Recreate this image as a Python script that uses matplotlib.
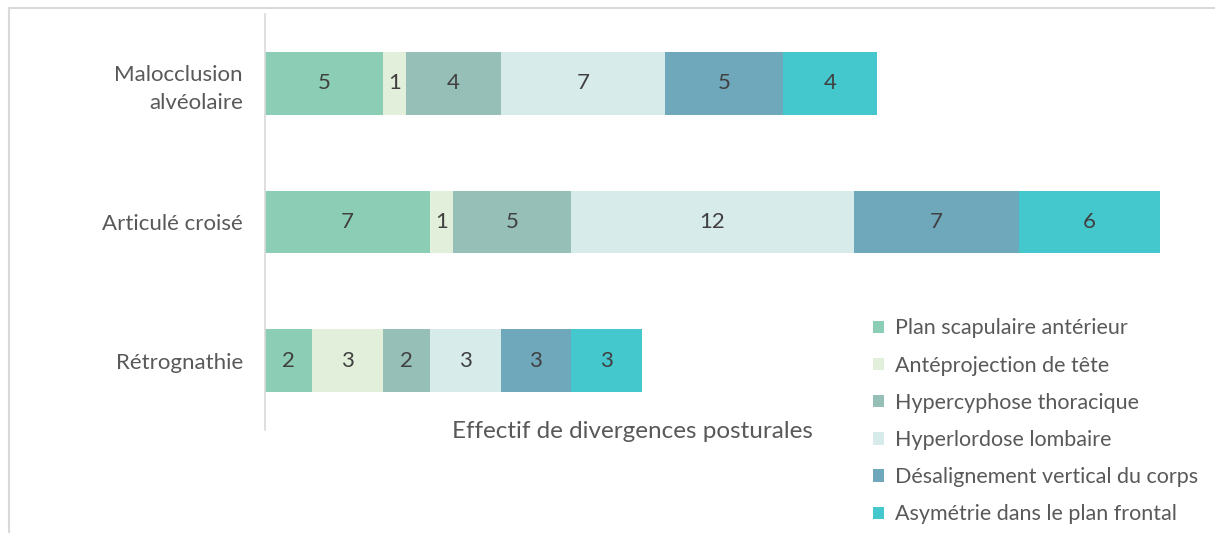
import numpy as np
import matplotlib.pyplot as plt
from matplotlib.lines import Line2D

plt.rcParams['font.family'] = ['Lato', 'DejaVu Sans']

categories = ['Malocclusion\nalvéolaire', 'Articulé croisé', 'Rétrognathie']
series = ['Plan scapulaire antérieur', 'Antéprojection de tête', 'Hypercyphose thoracique',
          'Hyperlordose lombaire', 'Désalignement vertical du corps', 'Asymétrie dans le plan frontal']
values = [
    [5, 7, 2],
    [1, 1, 3],
    [4, 5, 2],
    [7, 12, 3],
    [5, 7, 3],
    [4, 6, 3],
]
colors = ['#8CCDB6', '#E2EFDA', '#96BFB8', '#D6EBEA', '#6FA7BB', '#45C7CE']

fig = plt.figure(figsize=(12.15, 5.33), dpi=100)
ax = fig.add_axes([265/1215, 1-430/533, (1160-265)/1215, (430-14)/533])

ypos = np.array([2, 1, 0])
left = np.zeros(3)
handles = []
for vals, col, name in zip(values, colors, series):
    vals = np.array(vals)
    b = ax.barh(ypos, vals, left=left, height=0.45, color=col, label=name)
    handles.append(b)
    for y, l, v in zip(ypos, left, vals):
        ax.text(l + v/2, y, str(v), ha='center', va='center', fontsize=16, color='#404040')
    left = left + vals

ax.set_xlim(0, 38)
ax.set_ylim(-0.5, 2.5)
ax.set_yticks(ypos)
ax.set_yticklabels(categories, fontsize=16, color='#595959', linespacing=1.45)
ax.set_xticks([])
ax.tick_params(axis='y', length=0, pad=16)
for s in ['top', 'right', 'bottom']:
    ax.spines[s].set_visible(False)
ax.spines['left'].set_color('#D9D9D9')
ax.spines['left'].set_linewidth(1.2)

fig.text(632/1215, 1-432/533, 'Effectif de divergences posturales', ha='center', va='center',
         fontsize=17.5, color='#595959')

leg = fig.legend(handles=handles, loc='upper left', bbox_to_anchor=(854/1215, 1-299/533),
                 frameon=False, fontsize=15.5, handlelength=0.5, handleheight=0.5,
                 handletextpad=0.5, labelspacing=0.8, labelcolor='#595959')

# chart border (left and top visible)
fig.add_artist(Line2D([9/1215, 9/1215], [0, 1-8/533], color='#D9D9D9', lw=1.5))
fig.add_artist(Line2D([9/1215, 1], [1-8/533, 1-8/533], color='#D9D9D9', lw=1.5))

fig.savefig('out.png', dpi=100)
